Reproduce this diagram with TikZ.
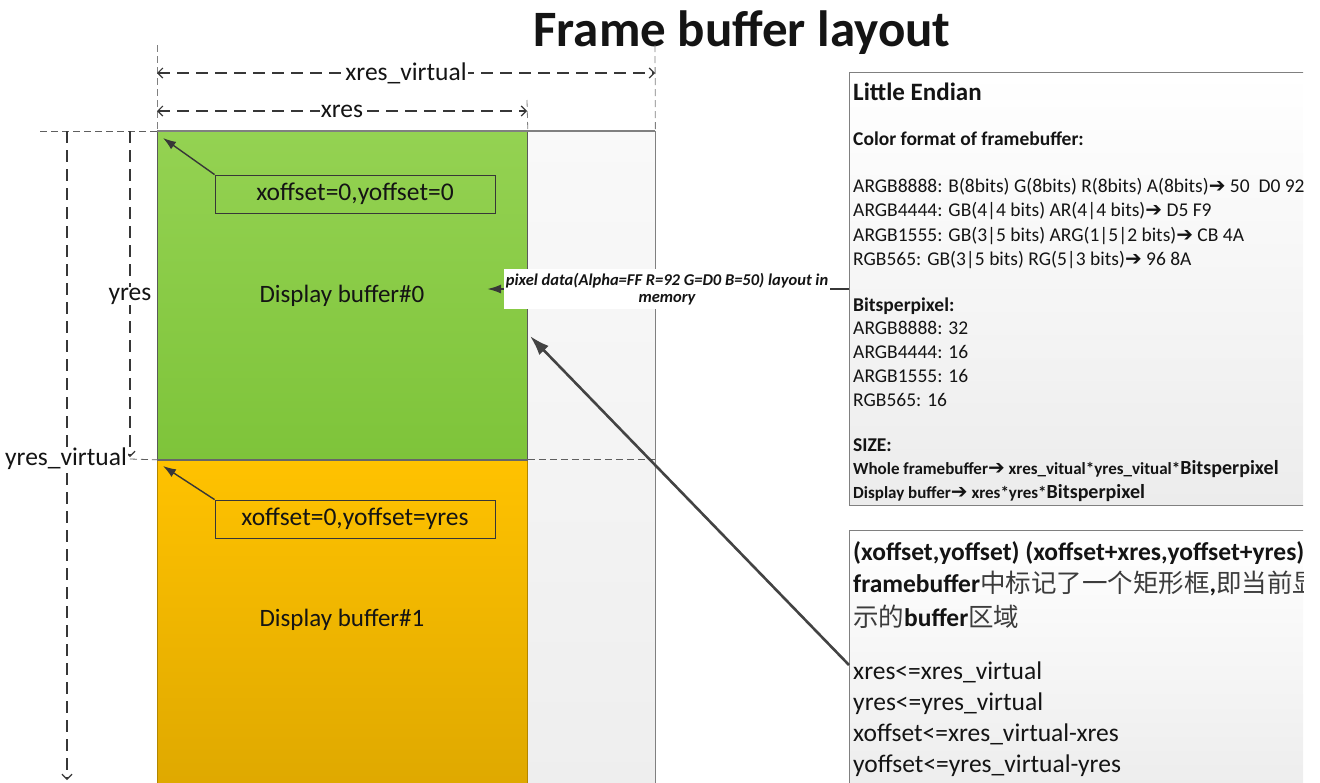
\documentclass[tikz,border=0pt]{standalone}
\usepackage{fontspec}
\setmainfont{Carlito}
\newfontfamily\cjk{Noto Sans CJK SC}
\newfontfamily\symfont{DejaVu Sans}
\usetikzlibrary{arrows.meta}

\definecolor{greenTop}{RGB}{148,210,82}
\definecolor{greenBot}{RGB}{126,196,58}
\definecolor{orangeTop}{RGB}{255,194,0}
\definecolor{orangeBot}{RGB}{222,168,0}
\definecolor{padTop}{RGB}{249,249,249}
\definecolor{padBot}{RGB}{238,238,238}
\definecolor{dimc}{RGB}{55,55,55}
\definecolor{edge}{RGB}{128,128,128}
\definecolor{ink}{RGB}{20,20,20}
\definecolor{cjkink}{RGB}{60,60,60}
\definecolor{boxBot}{RGB}{236,236,236}

\newcommand{\ra}{{\symfont\bfseries\fontsize{20}{20}\selectfont ➔}}
\newcommand{\fsz}[1]{\fontsize{#1}{#1}\selectfont}

\tikzset{
  dimline/.style={draw=dimc, line width=1.2pt, dash pattern=on 12pt off 7pt},
  barbs/.style={{Straight Barb[length=5pt,width=10pt]}-{Straight Barb[length=5pt,width=10pt]}},
  barbend/.style={-{Straight Barb[length=5pt,width=10pt]}},
  guide/.style={draw=edge, line width=0.8pt, dash pattern=on 7pt off 4pt},
  dimlabel/.style={fill=white, inner xsep=1pt, inner ysep=1pt, font=\fsz{25.5}, text=ink},
  offbox/.style={draw=dimc, line width=0.8pt, minimum width=280pt, minimum height=38pt, font=\fsz{25.5}, text=ink},
  ptr/.style={draw=dimc, line width=1.4pt, -{Latex[length=13pt,width=9pt]}},
  bigptr/.style={draw=ink!80, line width=2.6pt, -{Latex[length=20pt,width=13pt]}},
  infobox/.style={draw=edge, line width=0.8pt, top color=white, bottom color=boxBot, anchor=north west, inner sep=0pt},
  info/.style={anchor=base west, inner sep=0pt, font=\fsz{19.5}, text=ink},
  infobig/.style={anchor=base west, inner sep=0pt, font=\fsz{25.5}, text=ink},
  buftext/.style={font=\fsz{25}, text=ink}
}

\begin{document}
\begin{tikzpicture}[x=1pt, y=-1pt]
\useasboundingbox (0,0) rectangle (1320,782);

% title
\node[font=\bfseries\fsz{51}, anchor=base, text=ink] (title) at (742,46) {Frame buffer layout};

% virtual frame buffer: spare column on the right
\node[anchor=north west, minimum width=128pt, minimum height=660pt, inner sep=0pt,
      top color=padTop, bottom color=padBot] (pad) at (527,131) {};
\draw[edge, line width=1pt] (pad.north east) -- (pad.south east);

% display buffers
\node[anchor=north west, minimum width=370pt, minimum height=328pt, inner sep=0pt,
      top color=greenTop, bottom color=greenBot, draw=edge!70!black, line width=0.8pt] (buf0) at (157,131) {};
\node[anchor=north west, minimum width=370pt, minimum height=335pt, inner sep=0pt,
      top color=orangeTop, bottom color=orangeBot, draw=orangeBot!80!black, line width=0.8pt] (buf1) at (157,459) {};
\draw[edge, line width=1.4pt] (buf0.north west) -- (pad.north east);
\draw[edge!80!black, line width=1.4pt] (buf0.south west) -- (buf0.south east);

\node[buftext] (lbl0) at (342,296) {Display buffer\#0};
\node[buftext] (lbl1) at (342,620) {Display buffer\#1};

% guide lines for the dimensions
\coordinate (gx0) at (157,45);
\coordinate (gx1) at (527,100);
\coordinate (gx2) at (655,45);
\coordinate (gy0) at (40,131);
\coordinate (gy1) at (130,459);
\draw[guide] (gx0) -- (buf0.north west);
\draw[guide] (gx1) -- (buf0.north east);
\draw[guide] (gx2) -- (pad.north east);
\draw[guide, draw=dimc!80] (gy0) -- (buf0.north west);
\draw[guide, draw=dimc!80] (gy1) -- (buf0.south west);
\draw[guide, draw=dimc!80] (buf0.south east) -- (pad.north east |- buf0.south east);

% horizontal dimensions
\coordinate (xv0) at (157,73);
\coordinate (xv1) at (655,73);
\coordinate (xr0) at (157,111);
\coordinate (xr1) at (527,111);
\draw[dimline, barbs] (xv0) -- node[dimlabel] (xvl) {xres\_virtual} (xv1);
\draw[dimline, barbs] (xr0) -- node[dimlabel] (xrl) {xres} (xr1);

% vertical dimensions
\coordinate (yr0) at (130,131);
\coordinate (yr1) at (130,457);
\coordinate (yv0) at (67,131);
\coordinate (yv1) at (67,780);
\draw[dimline, barbend] (yr0) -- (yr1);
\draw[dimline, barbend] (yv0) -- (yv1);
\node[dimlabel] (yrl) at (130,296) {yres};
\node[dimlabel] (yvl) at (66,459) {yres\_virtual};

% offset callouts
\node[offbox] (off0) at (355,194) {xoffset=0,yoffset=0};
\node[offbox] (off1) at (355,519) {xoffset=0,yoffset=yres};
\coordinate (o0) at (163,138);
\coordinate (o1) at (163,466);
\draw[ptr] (off0.north west) -- (o0);
\draw[ptr] (off1.north west) -- (o1);

% note boxes (cut off at the right border)
\begin{scope}
  \clip (840,60) rectangle (1303,790);
  \node[infobox, minimum width=470pt, minimum height=433pt] (info1) at (849,72) {};
  \node[infobox, minimum width=470pt, minimum height=270pt] (info2) at (849,530) {};

  \node[info, font=\bfseries\fsz{25}] (t1) at (853,100) {Little Endian};
  \node[info, font=\bfseries\fsz{19.5}] (t2) at (853,145) {Color format of framebuffer:};
  \node[info] (t3) at (853,192) {ARGB8888: B(8bits) G(8bits) R(8bits) A(8bits)\ra{} 50\ \ D0 92 FF};
  \node[info] (t4) at (853,216) {ARGB4444: GB(4|4 bits) AR(4|4 bits)\ra{} D5 F9};
  \node[info] (t5) at (853,241) {ARGB1555: GB(3|5 bits) ARG(1|5|2 bits)\ra{} CB 4A};
  \node[info] (t6) at (853,265) {RGB565: GB(3|5 bits) RG(5|3 bits)\ra{} 96 8A};
  \node[info, font=\bfseries\fsz{19.5}] (t7) at (853,311) {Bitsperpixel:};
  \node[info] (t8) at (853,334) {ARGB8888: 32};
  \node[info] (t9) at (853,358) {ARGB4444: 16};
  \node[info] (t10) at (853,382) {ARGB1555: 16};
  \node[info] (t11) at (853,406) {RGB565: 16};
  \node[info, font=\bfseries\fsz{19.5}] (t12) at (853,451) {SIZE:};
  \node[info, font=\bfseries\fsz{17}] (t13) at (853,474) {Whole framebuffer\ra{} xres\_vitual*yres\_vitual*{\fsz{20}Bitsperpixel}};
  \node[info, font=\bfseries\fsz{17}] (t14) at (853,498) {Display buffer\ra{} xres*yres*{\fsz{20}Bitsperpixel}};

  \node[infobig, font=\bfseries\fsz{25.5}] (u1) at (853,560) {(xoffset,yoffset) (xoffset+xres,yoffset+yres)};
  \node[infobig] (u2) at (853,592) {\textbf{framebuffer}{\cjk\color{cjkink}中标记了一个矩形框}\textbf{,}{\cjk\color{cjkink}即当前显示的}\textbf{buffer}{\cjk\color{cjkink}区域}};
  \node[infobig] (u3) at (853,626) {{\cjk\color{cjkink}示的}\textbf{buffer}{\cjk\color{cjkink}区域}};
  \node[infobig] (u4) at (853,679) {xres<=xres\_virtual};
  \node[infobig] (u5) at (853,710) {yres<=yres\_virtual};
  \node[infobig] (u6) at (853,741) {xoffset<=xres\_virtual-xres};
  \node[infobig] (u7) at (853,772) {yoffset<=yres\_virtual-yres};
\end{scope}

% pixel data connector
\coordinate (p1) at (849,289);
\coordinate (p0) at (487,289);
\draw[draw=ink!85, line width=2pt, -{Latex[length=14pt,width=9pt]}] (p1) --
  node[fill=white, align=center, inner xsep=2pt, inner ysep=4pt, text=ink,
       font=\bfseries\itshape\fsz{16.5}, xshift=-1pt] (pix) {pixel data(Alpha=FF R=92 G=D0 B=50) layout in\\[1pt]memory} (p0);

% offset rectangle connector
\coordinate (q1) at (849,665);
\coordinate (q0) at (530,336);
\draw[bigptr] (q1) -- (q0);
\end{tikzpicture}
\end{document}
